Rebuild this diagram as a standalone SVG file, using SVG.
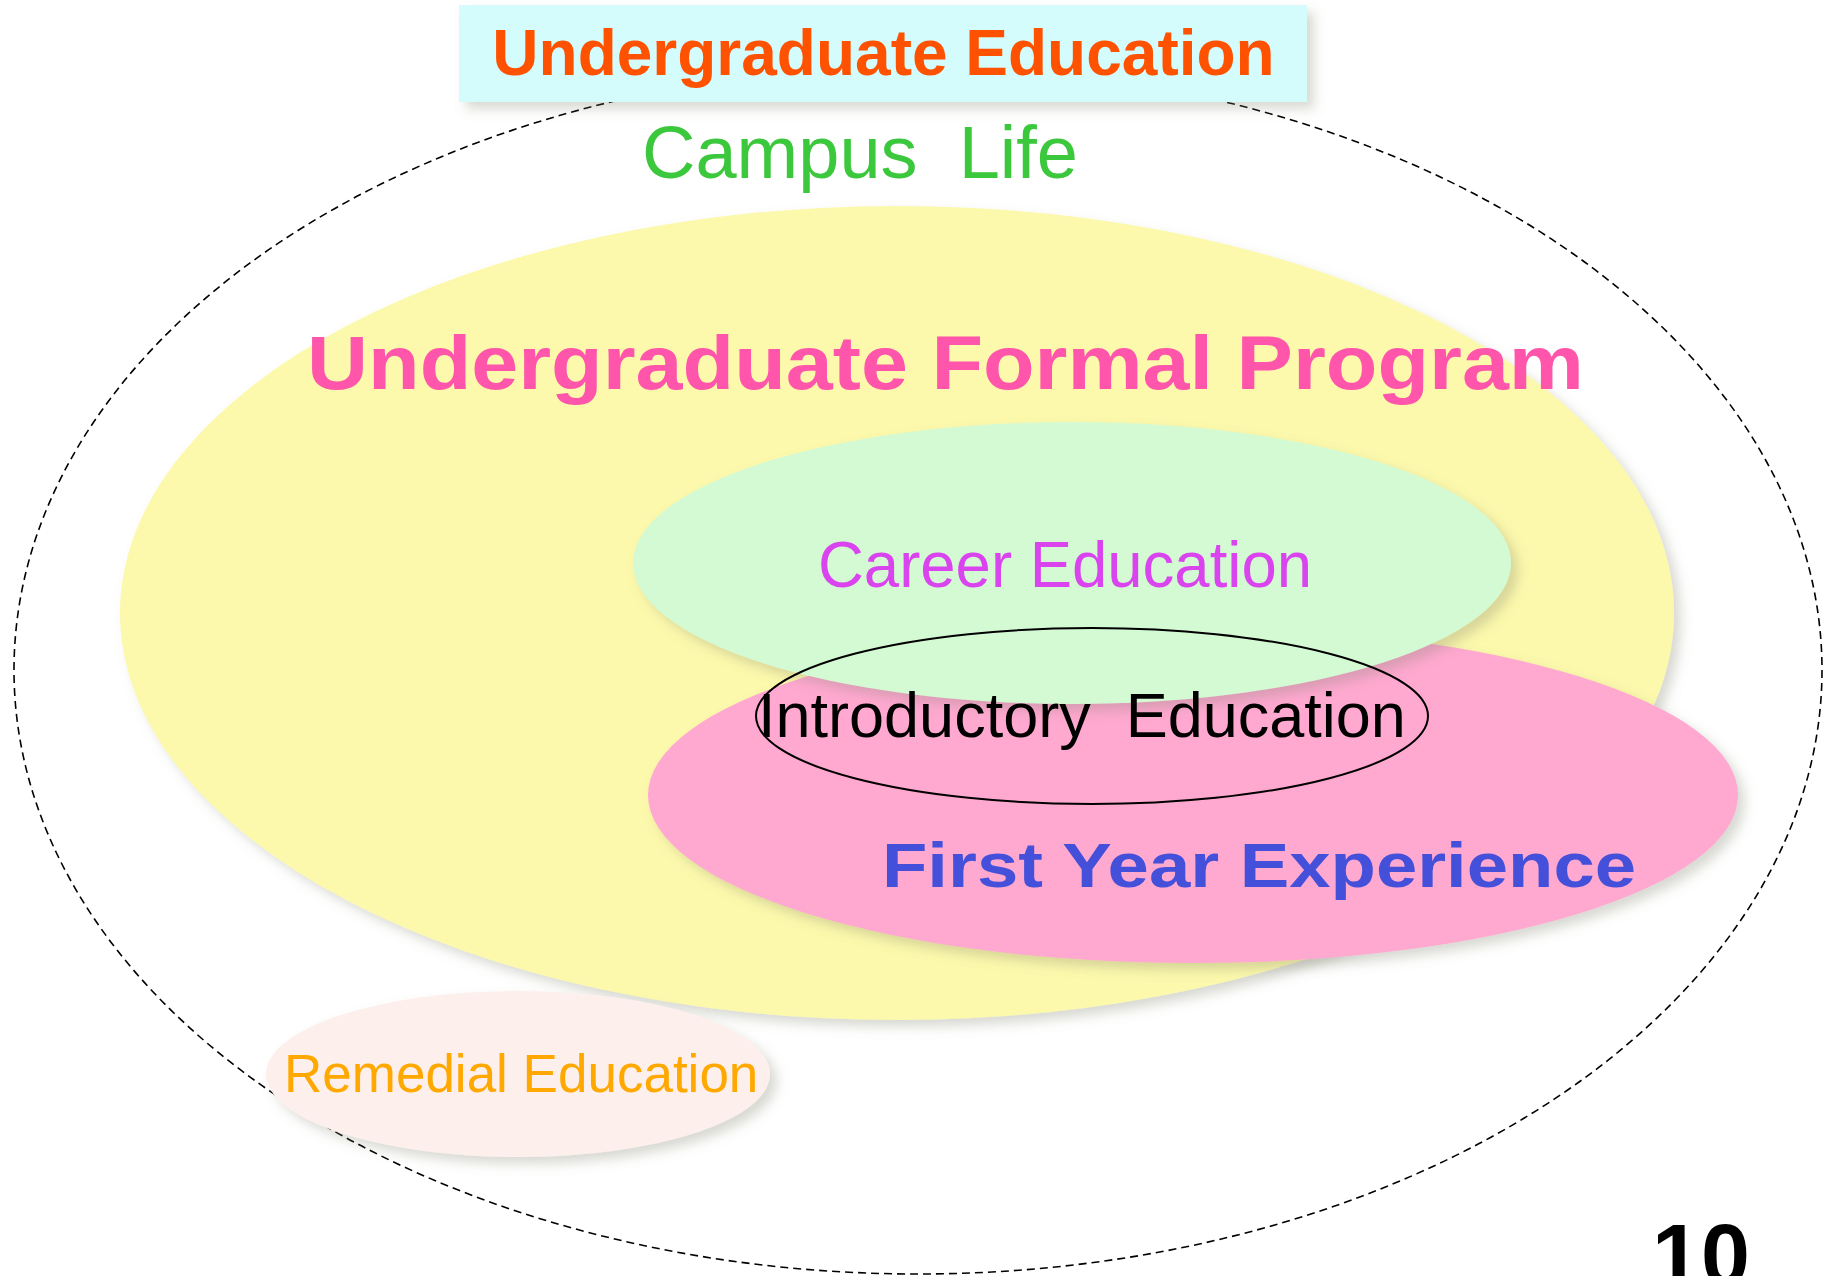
<svg xmlns="http://www.w3.org/2000/svg" width="1823" height="1276" viewBox="0 0 1823 1276">
<defs>
<filter id="sh" x="-10%" y="-10%" width="125%" height="130%">
<feDropShadow dx="7" dy="7" stdDeviation="6" flood-color="#808070" flood-opacity="0.3"/>
</filter>
<style>
.t{font-family:"Liberation Sans",Arial,sans-serif}
.b{font-weight:bold}
</style>
</defs>
<rect width="1823" height="1276" fill="#ffffff"/>
<g id="campus-life">
<ellipse cx="918" cy="670" rx="904" ry="604" fill="none" stroke="#000" stroke-width="1.6" stroke-dasharray="8 5"/>
<text class="t" x="642" y="178" font-size="74" fill="#3CC83C" xml:space="preserve">Campus  Life</text>
</g>
<g id="formal-program">
<ellipse cx="897" cy="613" rx="777" ry="407" fill="#FCF9AC" filter="url(#sh)"/>
<text class="t b" x="307" y="389" font-size="76" fill="#FF55AA" textLength="1277" lengthAdjust="spacingAndGlyphs">Undergraduate Formal Program</text>
</g>
<g id="remedial">
<ellipse cx="518" cy="1074" rx="252" ry="83" fill="#FDF0EC" filter="url(#sh)"/>
<text class="t" x="284" y="1092" font-size="53" fill="#FFA800">Remedial Education</text>
</g>
<g id="first-year">
<ellipse cx="1193" cy="795" rx="545" ry="168" fill="#FFA8D0" filter="url(#sh)"/>
<text class="t b" x="882" y="887" font-size="63" fill="#4450DA" textLength="754" lengthAdjust="spacingAndGlyphs">First Year Experience</text>
</g>
<g id="career">
<ellipse cx="1072" cy="563" rx="439" ry="141" fill="#D4FAD4" filter="url(#sh)"/>
<text class="t" x="818" y="587" font-size="64" fill="#DA44EE" textLength="494" lengthAdjust="spacingAndGlyphs">Career Education</text>
</g>
<g id="introductory">
<ellipse cx="1092" cy="716" rx="336" ry="88" fill="none" stroke="#000" stroke-width="2"/>
<text class="t" x="758" y="737" font-size="63" fill="#000" xml:space="preserve">Introductory  Education</text>
</g>
<g id="title">
<rect x="459" y="5" width="848" height="97" fill="#D4FCFC" filter="url(#sh)"/>
<text class="t b" x="883.5" y="75" font-size="64" fill="#FF5200" text-anchor="middle">Undergraduate Education</text>
</g>
<g id="page-number">
<text class="t b" x="1652" y="1285" font-size="88" fill="#000">10</text>
</g>
<g id="connectors"/>
</svg>
